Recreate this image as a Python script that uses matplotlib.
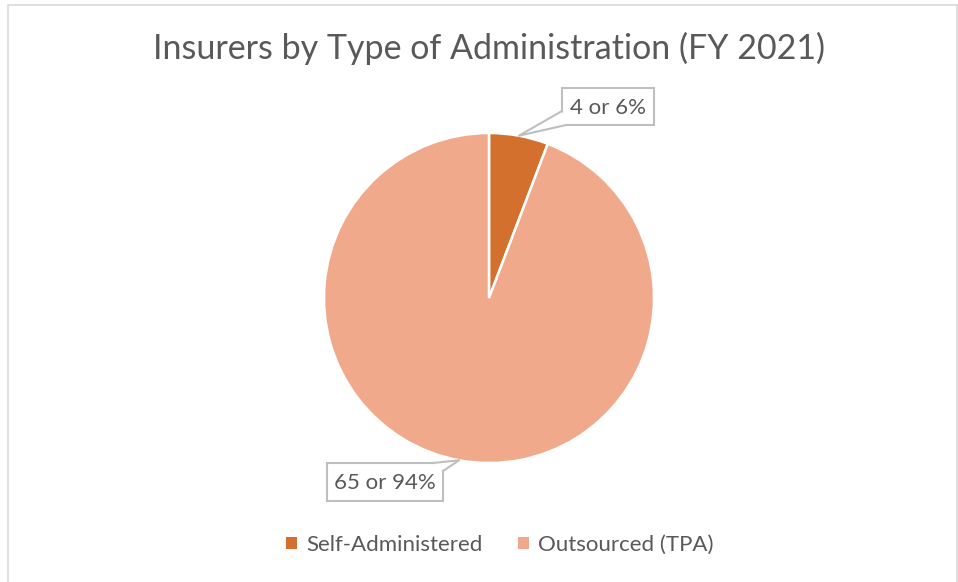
#!/usr/bin/env python3
"""Pie chart: insurers by type of administration (FY 2021)."""
import numpy as np
import matplotlib
matplotlib.use("Agg")
import matplotlib.pyplot as plt
from matplotlib.patches import Patch, Polygon
from matplotlib.lines import Line2D

# data
categories = ["Self-Administered", "Outsourced (TPA)"]
counts = [4, 65]
labels = ["4 or 6%", "65 or 94%"]
title = "Insurers by Type of Administration (FY 2021)"

colors = ["#D3702D", "#F1A98B"]
text_col = "#595959"
edge_col = "#BFBFBF"
FONT = "Lato"

W, H = 958, 582
fig = plt.figure(figsize=(W / 100, H / 100), dpi=100)
# one axes over the whole figure, in pixel units (y grows downward)
ax = fig.add_axes([0, 0, 1, 1])

# chart border (left, top, right edges visible)
ax.add_line(Line2D([8, 8, 957], [H, 5, 5], color="#D9D9D9", lw=1.2))
ax.add_line(Line2D([957, 957], [5, H], color="#D9D9D9", lw=1.2))

cx, cy, r = 489, 298, 165
# y is inverted, so counterclock in data = clockwise on screen; -90 = top
ax.pie(counts, colors=colors, startangle=-90, counterclock=True,
       center=(cx, cy), radius=r, frame=True,
       wedgeprops=dict(edgecolor="white", linewidth=1.8))
ax.set_xlim(0, W)
ax.set_ylim(H, 0)
ax.set_aspect("equal")
ax.axis("off")

ax.text(cx, 48, title, ha="center", va="center", fontsize=24.5,
        color=text_col, family=FONT)

# callout boxes: (x0, y0, x1, y1) and where the tail leaves the box
boxes = [(562, 88, 654, 125), (327, 463, 443, 501)]
tails = [[(562, 111), (566, 125)], [(433, 463), (443, 471)]]

fracs = np.array(counts) / sum(counts)
mids = np.cumsum(fracs) - fracs / 2
for lab, (x0, y0, x1, y1), base, f in zip(labels, boxes, tails, mids):
    th = np.deg2rad(-90 + 360 * f)
    tip = (cx + r * np.cos(th), cy + r * np.sin(th))
    ax.add_patch(Polygon([(x0, y0), (x1, y0), (x1, y1), (x0, y1)],
                         closed=True, fc="white", ec=edge_col, lw=1.5, zorder=5))
    ax.add_patch(Polygon([base[0], tip, base[1]], closed=True, fc="white",
                         ec="none", zorder=6))
    ax.add_line(Line2D([base[0][0], tip[0], base[1][0]],
                       [base[0][1], tip[1], base[1][1]],
                       color=edge_col, lw=1.5, zorder=7))
    ax.text((x0 + x1) / 2, (y0 + y1) / 2 + 1, lab, ha="center", va="center",
            fontsize=16, color=text_col, family=FONT, zorder=8)

handles = [Patch(facecolor=c, edgecolor="none", label=n)
           for c, n in zip(colors, categories)]
leg = ax.legend(handles=handles, loc="center", ncol=2, frameon=False,
                bbox_to_anchor=(500 / W, 1 - 545 / H),
                handlelength=0.5, handleheight=0.5, handletextpad=0.4,
                columnspacing=1.6, prop={"family": FONT, "size": 16})
for t in leg.get_texts():
    t.set_color(text_col)

fig.savefig("out.png", dpi=100)
plt.close(fig)
